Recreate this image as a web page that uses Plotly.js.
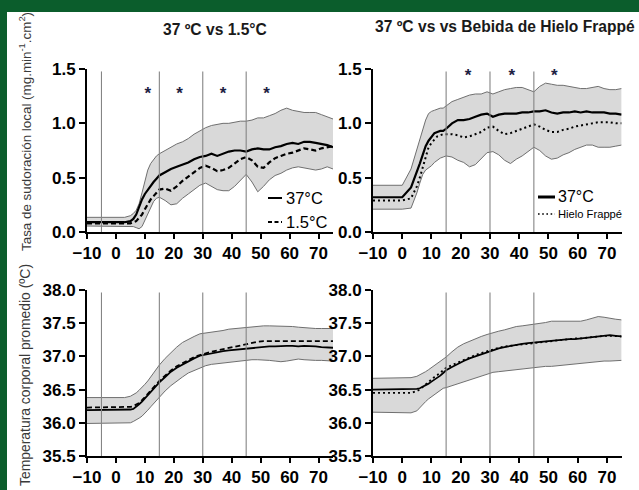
<!DOCTYPE html>
<html><head><meta charset="utf-8">
<script src="https://cdn.plot.ly/plotly-3.0.1.min.js"></script>
<style>html,body{margin:0;padding:0;background:#fff;overflow:hidden}#chart{width:639px;height:490px}</style>
</head><body><div id="chart"></div>
<script>
// time (min)
const minutes = [-10,0,3,5,6,7,8,9,10,11,12,13,14,15,17,19,21,23,25,27,29,31,33,35,37,39,41,43,45,47,49,51,53,55,57,59,61,63,65,67,69,71,73,75];

// Top-left: sweat rate, 37°C vs 1.5°C
const sweat37_A = [0.09,0.09,0.09,0.10,0.12,0.16,0.23,0.30,0.35,0.39,0.43,0.46,0.49,0.52,0.55,0.58,0.60,0.62,0.64,0.67,0.69,0.70,0.72,0.70,0.72,0.74,0.75,0.75,0.74,0.76,0.77,0.76,0.76,0.78,0.79,0.81,0.82,0.81,0.83,0.83,0.82,0.81,0.80,0.78];
const sweat15 = [0.08,0.08,0.08,0.08,0.09,0.10,0.13,0.16,0.21,0.26,0.30,0.33,0.36,0.39,0.40,0.38,0.42,0.47,0.51,0.55,0.59,0.61,0.59,0.56,0.57,0.59,0.63,0.67,0.69,0.66,0.60,0.59,0.64,0.68,0.70,0.72,0.73,0.75,0.77,0.76,0.75,0.77,0.78,0.79];
const sweatUpper_A = [0.135,0.135,0.135,0.15,0.17,0.20,0.26,0.36,0.47,0.57,0.63,0.67,0.70,0.72,0.75,0.78,0.81,0.83,0.86,0.90,0.93,0.96,0.98,0.99,1.00,1.00,1.01,1.02,1.02,1.03,1.05,1.05,1.07,1.09,1.12,1.14,1.12,1.11,1.10,1.10,1.10,1.08,1.06,1.04];
const sweatLower_A = [0.055,0.055,0.055,0.055,0.05,0.04,0.03,0.05,0.11,0.17,0.23,0.28,0.31,0.32,0.29,0.25,0.26,0.31,0.35,0.39,0.43,0.45,0.42,0.39,0.38,0.38,0.42,0.48,0.53,0.46,0.37,0.42,0.48,0.52,0.54,0.57,0.59,0.60,0.59,0.58,0.57,0.58,0.60,0.58];

// Top-right: sweat rate, 37°C vs ice slurry
const sweat37_B = [0.32,0.32,0.41,0.55,0.63,0.71,0.79,0.84,0.88,0.91,0.92,0.93,0.93,0.95,1.00,1.03,1.03,1.04,1.06,1.08,1.09,1.06,1.08,1.09,1.09,1.09,1.10,1.10,1.11,1.11,1.12,1.10,1.09,1.10,1.10,1.11,1.10,1.11,1.10,1.10,1.10,1.09,1.09,1.08];
const sweatIce = [0.29,0.29,0.31,0.42,0.50,0.59,0.69,0.78,0.82,0.85,0.88,0.89,0.90,0.90,0.90,0.89,0.87,0.88,0.90,0.92,0.96,0.97,0.93,0.90,0.91,0.93,0.95,0.97,0.99,0.97,0.94,0.92,0.92,0.94,0.95,0.97,0.98,0.99,1.00,1.01,1.01,1.01,1.00,1.00];
const sweatUpper_B = [0.43,0.43,0.58,0.77,0.86,0.95,1.03,1.09,1.11,1.12,1.13,1.14,1.14,1.16,1.20,1.22,1.24,1.26,1.27,1.27,1.29,1.27,1.29,1.31,1.32,1.33,1.33,1.31,1.29,1.34,1.37,1.36,1.35,1.35,1.34,1.33,1.32,1.32,1.33,1.34,1.32,1.31,1.31,1.32];
const sweatLower_B = [0.21,0.21,0.22,0.36,0.45,0.53,0.57,0.59,0.61,0.64,0.66,0.68,0.69,0.70,0.69,0.66,0.64,0.60,0.62,0.68,0.73,0.74,0.71,0.66,0.63,0.67,0.70,0.74,0.78,0.75,0.70,0.67,0.68,0.71,0.73,0.76,0.78,0.80,0.80,0.78,0.78,0.78,0.79,0.80];

// Bottom-left: mean body temperature, 37°C vs 1.5°C
const temp37_A = [36.19,36.19,36.19,36.20,36.21,36.24,36.28,36.32,36.37,36.42,36.47,36.52,36.56,36.61,36.69,36.77,36.83,36.88,36.93,36.97,37.01,37.03,37.05,37.07,37.08,37.09,37.10,37.11,37.12,37.13,37.14,37.15,37.15,37.15,37.16,37.16,37.16,37.15,37.16,37.16,37.15,37.14,37.13,37.13];
const temp15 = [36.23,36.23,36.23,36.24,36.25,36.27,36.30,36.34,36.39,36.44,36.49,36.54,36.58,36.63,36.71,36.79,36.85,36.90,36.95,36.99,37.02,37.05,37.07,37.09,37.11,37.13,37.15,37.17,37.19,37.21,37.22,37.23,37.23,37.23,37.23,37.23,37.24,37.24,37.24,37.24,37.24,37.23,37.23,37.23];
const tempUpper_A = [36.38,36.38,36.38,36.40,36.42,36.45,36.49,36.53,36.58,36.63,36.69,36.75,36.81,36.87,36.97,37.06,37.14,37.21,37.26,37.30,37.34,37.35,37.36,37.37,37.39,37.41,37.42,37.43,37.44,37.45,37.45,37.46,37.46,37.46,37.46,37.46,37.45,37.44,37.43,37.43,37.42,37.42,37.42,37.42];
const tempLower_A = [35.99,35.99,35.99,36.00,36.02,36.04,36.07,36.10,36.14,36.19,36.24,36.29,36.34,36.39,36.48,36.56,36.63,36.69,36.75,36.79,36.83,36.86,36.88,36.89,36.90,36.91,36.92,36.93,36.95,36.95,36.95,36.95,36.94,36.93,36.92,36.93,36.95,36.96,36.95,36.94,36.94,36.94,36.93,36.93];

// Bottom-right: mean body temperature, 37°C vs ice slurry
const temp37_B = [36.50,36.50,36.50,36.51,36.52,36.54,36.56,36.59,36.62,36.65,36.67,36.71,36.75,36.79,36.84,36.89,36.93,36.97,37.00,37.04,37.07,37.10,37.12,37.14,37.16,37.17,37.19,37.20,37.21,37.22,37.23,37.24,37.25,37.25,37.26,37.26,37.27,37.28,37.29,37.31,37.32,37.32,37.31,37.30];
const tempIce = [36.45,36.45,36.45,36.48,36.50,36.54,36.58,36.62,36.66,36.69,36.72,36.75,36.79,36.83,36.87,36.91,36.95,36.99,37.02,37.05,37.08,37.11,37.13,37.15,37.16,37.18,37.19,37.20,37.21,37.22,37.23,37.24,37.25,37.25,37.26,37.27,37.27,37.28,37.29,37.31,37.31,37.31,37.31,37.30];
const tempUpper_B = [36.67,36.67,36.68,36.70,36.72,36.74,36.77,36.80,36.83,36.87,36.90,36.93,36.96,36.99,37.07,37.14,37.19,37.23,37.27,37.30,37.33,37.36,37.38,37.40,37.43,37.45,37.46,37.47,37.48,37.50,37.51,37.53,37.53,37.52,37.52,37.52,37.53,37.55,37.58,37.60,37.59,37.57,37.56,37.55];
const tempLower_B = [36.16,36.16,36.15,36.18,36.23,36.28,36.32,36.36,36.39,36.43,36.46,36.49,36.52,36.53,36.56,36.58,36.61,36.64,36.67,36.70,36.73,36.76,36.77,36.78,36.79,36.81,36.82,36.83,36.84,36.84,36.85,36.85,36.86,36.86,36.87,36.88,36.89,36.90,36.91,36.92,36.93,36.93,36.94,36.94];

// phase markers and significance stars
const phaseLinesA = [-5,15,30,45];
const phaseLinesB = [15,30,45];
const starsA_x = [11,22,37,52];
const starsA_y = [1.26,1.26,1.26,1.26];
const starsB_x = [22.5,37.5,52];
const starsB_y = [1.43,1.43,1.43];

const xTicks = [-10,0,10,20,30,40,50,60,70];
const sweatTicks = [0,0.5,1.0,1.5];
const tempTicks = [35.5,36.0,36.5,37.0,37.5,38.0];

const titleA = '37 ºC vs 1.5°C';
const titleB = '37 ºC vs vs Bebida de Hielo Frappé';
const yTitleTop = 'Tasa de sudoración local (mg.min<sup>-1</sup>.cm<sup>2</sup>)';
const yTitleBottom = 'Temperatura corporal promedio (ºC)';
const legendA = ['37°C','1.5°C'];
const legendB = ['37°C','Hielo Frappé'];

const W = 639, H = 490;
const px = v => v / W, py = v => 1 - v / H;
const BAND = '#d9d9d9', EDGE = '#6f6f6f';

const panels = [
  {xa:'x',  ya:'y',  low:sweatLower_A, up:sweatUpper_A, m1:sweat37_A, m2:sweat15,  dash:'5px,3px', w:2.2, w2:2.2},
  {xa:'x2', ya:'y2', low:sweatLower_B, up:sweatUpper_B, m1:sweat37_B, m2:sweatIce, dash:'2px,3px', w:2.2, w2:2},
  {xa:'x3', ya:'y3', low:tempLower_A,  up:tempUpper_A,  m1:temp37_A,  m2:temp15,   dash:'5px,3px', w:1.8, w2:1.8},
  {xa:'x4', ya:'y4', low:tempLower_B,  up:tempUpper_B,  m1:temp37_B,  m2:tempIce,  dash:'2px,3px', w:1.8, w2:1.8}
];

const traces = [];
panels.forEach(p => {
  traces.push({x:minutes, y:p.low, xaxis:p.xa, yaxis:p.ya, mode:'lines', line:{color:EDGE, width:1}, showlegend:false, hoverinfo:'skip'});
  traces.push({x:minutes, y:p.up, xaxis:p.xa, yaxis:p.ya, mode:'lines', fill:'tonexty', fillcolor:BAND, line:{color:EDGE, width:1}, showlegend:false, hoverinfo:'skip'});
  traces.push({x:minutes, y:p.m2, xaxis:p.xa, yaxis:p.ya, mode:'lines', line:{color:'#000', width:p.w2, dash:p.dash}, showlegend:false});
  traces.push({x:minutes, y:p.m1, xaxis:p.xa, yaxis:p.ya, mode:'lines', line:{color:'#000', width:p.w}, showlegend:false});
});
const starFont = {family:'Liberation Sans, Arial, sans-serif', size:17, color:'#1d2142', weight:700};
traces.push({x:starsA_x, y:starsA_y, xaxis:'x', yaxis:'y', mode:'text', text:starsA_x.map(() => '*'), textposition:'middle center', textfont:starFont, showlegend:false, cliponaxis:false});
traces.push({x:starsB_x, y:starsB_y, xaxis:'x2', yaxis:'y2', mode:'text', text:starsB_x.map(() => '*'), textposition:'middle center', textfont:starFont, showlegend:false, cliponaxis:false});

const tickFont = {family:'Liberation Sans, Arial, sans-serif', size:17, color:'#000', weight:700};
function xAxis(dom, anchor){
  return {domain:dom, anchor:anchor, range:[-10,75], tickvals:xTicks, showline:true, linecolor:'#000', linewidth:2,
    ticks:'outside', ticklen:5, tickwidth:2, tickcolor:'#000', showgrid:false, zeroline:false, tickfont:tickFont, fixedrange:true};
}
function yAxis(dom, anchor, range, vals){
  return {domain:dom, anchor:anchor, range:range, tickvals:vals, tickformat:'.1f', showline:true, linecolor:'#000', linewidth:2,
    ticks:'outside', ticklen:6, tickwidth:2, tickcolor:'#000', showgrid:false, zeroline:false, tickfont:tickFont, fixedrange:true};
}
const xdA = [px(87), px(333)], xdB = [px(373), px(621.6)];
const ydTop = [py(232), py(69)], ydBot = [py(456), py(290)];

const shapes = [];
function vlines(list, xref, yref){
  list.forEach(v => shapes.push({type:'line', xref:xref, yref:yref+' domain', x0:v, x1:v, y0:0, y1:0.985, line:{color:'#858585', width:1.1}, layer:'above'}));
}
vlines(phaseLinesA,'x','y'); vlines(phaseLinesB,'x2','y2'); vlines(phaseLinesA,'x3','y3'); vlines(phaseLinesB,'x4','y4');
// green frame
shapes.push({type:'rect', xref:'paper', yref:'paper', x0:0, x1:px(7), y0:0, y1:1, fillcolor:'#0b5d2c', line:{width:0}, layer:'above'});
shapes.push({type:'rect', xref:'paper', yref:'paper', x0:0, x1:1, y0:py(12), y1:1, fillcolor:'#0b5d2c', line:{width:0}, layer:'above'});
// legend samples
shapes.push({type:'line', xref:'paper', yref:'paper', x0:px(268), x1:px(282), y0:py(198), y1:py(198), line:{color:'#000', width:2}});
shapes.push({type:'line', xref:'paper', yref:'paper', x0:px(268), x1:px(282), y0:py(222), y1:py(222), line:{color:'#000', width:2, dash:'4px,2.5px'}});
shapes.push({type:'line', xref:'paper', yref:'paper', x0:px(538), x1:px(555), y0:py(197), y1:py(197), line:{color:'#000', width:3}});
shapes.push({type:'line', xref:'paper', yref:'paper', x0:px(538), x1:px(555), y0:py(214), y1:py(214), line:{color:'#000', width:1.6, dash:'1.6px,2.6px'}});

const txtFont = {family:'Liberation Sans, Arial, sans-serif', color:'#000'};
const annotations = [
  {xref:'paper', yref:'paper', x:px(215), y:py(29), text:titleA, showarrow:false, xanchor:'center', yanchor:'middle', font:Object.assign({}, txtFont, {size:15.6, weight:700, color:'#1a1a1a'})},
  {xref:'paper', yref:'paper', x:px(505), y:py(27), text:titleB, showarrow:false, xanchor:'center', yanchor:'middle', font:Object.assign({}, txtFont, {size:15.6, weight:700, color:'#1a1a1a'})},
  {xref:'paper', yref:'paper', x:px(25), y:py(132), text:yTitleTop, textangle:-90, showarrow:false, xanchor:'center', yanchor:'middle', font:Object.assign({}, txtFont, {size:13.4, color:'#3a3a3a'})},
  {xref:'paper', yref:'paper', x:px(25), y:py(375), text:yTitleBottom, textangle:-90, showarrow:false, xanchor:'center', yanchor:'middle', font:Object.assign({}, txtFont, {size:13.9, color:'#3a3a3a'})},
  {xref:'paper', yref:'paper', x:px(284), y:py(198), text:legendA[0], showarrow:false, xanchor:'left', yanchor:'middle', font:Object.assign({}, txtFont, {size:16.5})},
  {xref:'paper', yref:'paper', x:px(284), y:py(222), text:legendA[1], showarrow:false, xanchor:'left', yanchor:'middle', font:Object.assign({}, txtFont, {size:16.5})},
  {xref:'paper', yref:'paper', x:px(556), y:py(197), text:legendB[0], showarrow:false, xanchor:'left', yanchor:'middle', font:Object.assign({}, txtFont, {size:16})},
  {xref:'paper', yref:'paper', x:px(556), y:py(214), text:legendB[1], showarrow:false, xanchor:'left', yanchor:'middle', font:Object.assign({}, txtFont, {size:11.2})}
];

const layout = {
  width:W, height:H, margin:{l:0, r:0, t:0, b:0}, paper_bgcolor:'#fff', plot_bgcolor:'rgba(0,0,0,0)', showlegend:false,
  xaxis:xAxis(xdA,'y'), yaxis:yAxis(ydTop,'x',[0,1.5],sweatTicks),
  xaxis2:xAxis(xdB,'y2'), yaxis2:yAxis(ydTop,'x2',[0,1.5],sweatTicks),
  xaxis3:xAxis(xdA,'y3'), yaxis3:yAxis(ydBot,'x3',[35.5,38],tempTicks),
  xaxis4:xAxis(xdB,'y4'), yaxis4:yAxis(ydBot,'x4',[35.5,38],tempTicks),
  shapes:shapes, annotations:annotations
};
Plotly.newPlot('chart', traces, layout, {staticPlot:true, displayModeBar:false});
</script></body></html>
